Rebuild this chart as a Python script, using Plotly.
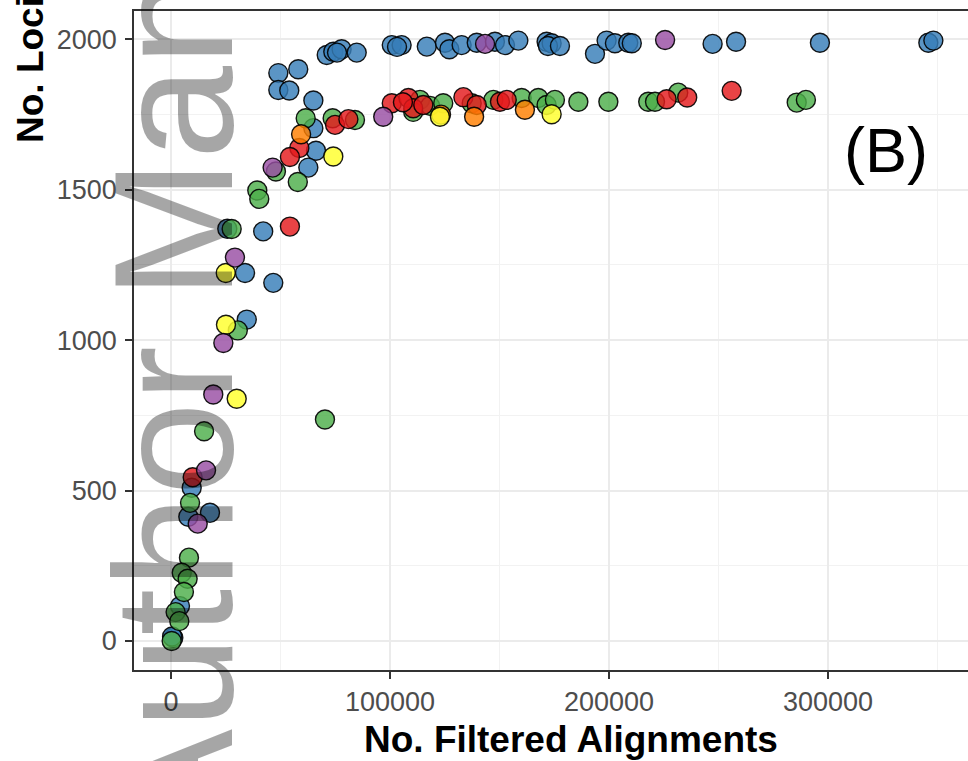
import plotly.graph_objects as go

# ---------------- data ----------------
blue_x = [49000, 58100, 49000, 54000, 65000, 65000, 66200, 62700, 42100, 46700,
          33800, 34600, 25700, 9450, 17800, 7900, 4100, 1050, 500,
          71100, 74100, 77900, 75800, 84800, 100800, 105300, 103200, 116800, 125100,
          127100, 132700, 139600, 147900, 152500, 158600, 171500, 173800, 172100,
          177600, 193600, 198900, 202700, 208800, 210400, 247300, 258000, 296300,
          345800, 348100]
blue_y = [1887, 1900, 1831, 1829, 1796, 1704, 1629, 1573, 1361, 1190,
          1223, 1068, 1370, 509, 426, 413, 116, 11, 15,
          1947, 1958, 1966, 1955, 1955, 1980, 1980, 1974, 1975, 1988,
          1966, 1980, 1988, 1991, 1980, 1995, 1991, 1986, 1977,
          1977, 1951, 1995, 1986, 1988, 1986, 1984, 1991, 1988,
          1988, 1995]

purple_x = [143400, 225600, 96900, 46400, 29200, 23900, 19300, 16000, 12200]
purple_y = [1984, 1997, 1742, 1573, 1274, 990, 819, 567, 390]

yellow_x = [74100, 25000, 25100, 30000, 122800, 173800]
yellow_y = [1610, 1223, 1051, 805, 1742, 1750]

orange_x = [59400, 138400, 161600, 123300]
orange_y = [1684, 1742, 1765, 1749]

red_x = [58600, 54300, 74900, 54300, 9900, 81000, 100800, 108400, 110600, 115200,
         133500, 139600, 150200, 153300, 226300, 235700, 256000, 105900]
red_y = [1638, 1608, 1715, 1377, 544, 1734, 1787, 1804, 1770, 1781,
         1807, 1781, 1792, 1798, 1800, 1806, 1828, 1790]

green_x = [61500, 73800, 57900, 47900, 39400, 40300, 27700, 30500, 70300, 15100,
           8700, 8200, 4900, 7600, 5900, 2100, 3800, 300,
           84000, 113700, 118300, 124300, 110600, 137300, 147200, 160100, 167700,
           171500, 175300, 186000, 199700, 217900, 221000, 231600, 285700, 289900]
green_y = [1737, 1737, 1525, 1560, 1497, 1469, 1369, 1032, 736, 697,
           459, 277, 227, 207, 163, 96, 66, 0,
           1731, 1798, 1778, 1787, 1758, 1787, 1798, 1804, 1804,
           1781, 1798, 1792, 1792, 1792, 1792, 1822, 1789, 1798]

x_ticks = [0, 100000, 200000, 300000]
y_ticks = [0, 500, 1000, 1500, 2000]

x_title = "No. Filtered Alignments"
y_title = "No. Loci"
panel_label = "(B)"
watermark = "Author Manuscript"

# ---------------- figure ----------------
W, H = 968, 761
L, R, T, B = 134, 0, 11, 91
pw, ph = W - L - R, H - T - B


def px2paper_x(px):
    return (px - L) / pw


def px2paper_y(py):
    return (H - B - py) / ph


groups = [
    ("blue", blue_x, blue_y, "rgba(55,126,184,0.82)"),
    ("green", green_x, green_y, "rgba(77,175,74,0.82)"),
    ("red", red_x, red_y, "rgba(228,26,28,0.82)"),
    ("orange", orange_x, orange_y, "rgba(255,127,0,0.82)"),
    ("yellow", yellow_x, yellow_y, "rgba(255,255,51,0.85)"),
    ("purple", purple_x, purple_y, "rgba(152,78,163,0.82)"),
]

fig = go.Figure()
for name, xs, ys, col in groups:
    fig.add_trace(go.Scatter(
        x=xs, y=ys, mode="markers", name=name, showlegend=False,
        marker=dict(size=19, color=col, line=dict(color="rgba(0,0,0,0.9)", width=1.4)),
    ))

tickfont = dict(family="Liberation Sans, Arial, sans-serif", size=27, color="#4D4D4D")

fig.update_layout(
    width=W, height=H,
    margin=dict(l=L, r=R, t=T, b=B, pad=0),
    paper_bgcolor="white", plot_bgcolor="white",
    showlegend=False,
    font=dict(family="Liberation Sans, Arial, sans-serif"),
    xaxis=dict(
        range=[-16894, 363910], tickvals=x_ticks, ticktext=[str(v) for v in x_ticks],
        showgrid=True, gridcolor="#EBEBEB", gridwidth=2,
        minor=dict(dtick=50000, tick0=0, showgrid=True, gridcolor="#F2F2F2", gridwidth=1),
        zeroline=False, showline=True, mirror=True, linecolor="#333333", linewidth=1.6,
        ticks="outside", ticklen=7, tickwidth=1.6, tickcolor="#333333",
        tickfont=tickfont, ticklabelstandoff=0,
    ),
    yaxis=dict(
        range=[-96.3, 2093.3], tickvals=y_ticks, ticktext=[str(v) for v in y_ticks],
        showgrid=True, gridcolor="#EBEBEB", gridwidth=2,
        minor=dict(dtick=250, tick0=0, showgrid=True, gridcolor="#F2F2F2", gridwidth=1),
        zeroline=False, showline=True, mirror=False, linecolor="#333333", linewidth=1.6,
        ticks="outside", ticklen=7, tickwidth=1.6, tickcolor="#333333",
        tickfont=tickfont, ticklabelstandoff=3,
    ),
)

title_font = dict(family="Liberation Sans, Arial, sans-serif", size=37, color="black")

fig.add_annotation(
    text=f"<b>{x_title}</b>", xref="paper", yref="paper",
    x=px2paper_x(571), y=px2paper_y(739), xanchor="center", yanchor="middle",
    showarrow=False, font=title_font,
)
fig.add_annotation(
    text=f"<b>{y_title}</b>", xref="paper", yref="paper", textangle=-90,
    x=px2paper_x(30), y=px2paper_y(70), xanchor="center", yanchor="middle",
    showarrow=False, font=title_font,
)
fig.add_annotation(
    text=panel_label, xref="paper", yref="paper",
    x=px2paper_x(886), y=px2paper_y(150), xanchor="center", yanchor="middle",
    showarrow=False,
    font=dict(family="Liberation Sans, Arial, sans-serif", size=63, color="black"),
)
fig.add_annotation(
    text=watermark, xref="paper", yref="paper", textangle=-90,
    x=px2paper_x(174), y=px2paper_y(160), xanchor="center", yanchor="middle",
    showarrow=False,
    font=dict(family="Liberation Sans, Arial, sans-serif", size=168, color="rgba(0,0,0,0.35)"),
)

fig.write_html("out.html")
